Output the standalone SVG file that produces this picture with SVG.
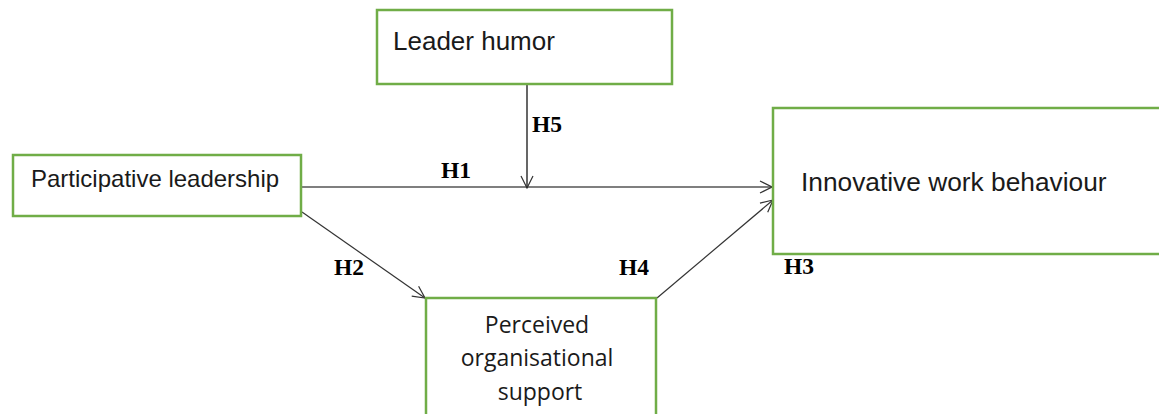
<svg xmlns="http://www.w3.org/2000/svg" width="1159" height="414" viewBox="0 0 1159 414">
<style>
.box{fill:#fff;stroke:#70ad47;stroke-width:2.5}
.lbl{font-family:"Liberation Sans",Arial,sans-serif;fill:#1a1a1a}
.h{font-family:"Liberation Serif","Times New Roman",serif;font-weight:bold;font-size:23.5px;fill:#000}
.c{fill:none;stroke-width:1.2}
</style>
<defs>
<marker id="arr" viewBox="0 0 14 14" refX="13" refY="7" markerWidth="14" markerHeight="14" markerUnits="userSpaceOnUse" orient="auto">
<path d="M1,1 L13,7 L1,13" fill="none" stroke="#333" stroke-width="1.2"/>
</marker>
</defs>
<rect width="1159" height="414" fill="#fff"/>
<g id="connectors">
<line class="c" x1="302" y1="187" x2="772" y2="187" stroke="#000" marker-end="url(#arr)"/>
<line class="c" x1="527" y1="84" x2="527" y2="188" stroke="#000" marker-end="url(#arr)"/>
<line class="c" x1="302" y1="212" x2="425" y2="298" stroke="#333" marker-end="url(#arr)"/>
<line class="c" x1="657" y1="298" x2="773" y2="200" stroke="#333" marker-end="url(#arr)"/>
<text class="h" x="441" y="178">H1</text>
<text class="h" x="334" y="275">H2</text>
<text class="h" x="784" y="274">H3</text>
<text class="h" x="619" y="275">H4</text>
<text class="h" x="532" y="132">H5</text>
</g>
<g id="leader-humor">
<rect class="box" x="377" y="10" width="295" height="74"/>
<text class="lbl" x="393" y="50" font-size="26">Leader humor</text>
</g>
<g id="participative-leadership">
<rect class="box" x="13" y="155" width="288" height="61"/>
<text class="lbl" x="31" y="187" font-size="24">Participative leadership</text>
</g>
<g id="innovative-work-behaviour">
<rect class="box" x="773" y="108" width="400" height="146"/>
<text class="lbl" x="801" y="191" font-size="26.3">Innovative work behaviour</text>
</g>
<g id="perceived-organisational-support">
<rect class="box" x="426" y="298" width="230" height="130"/>
<text font-family="'Open Sans','Noto Sans',sans-serif" font-size="23" fill="#1a1a1a" text-anchor="middle">
<tspan x="540" y="333">Perceived</tspan>
<tspan x="540" y="366">organisational</tspan>
<tspan x="540" y="400">support</tspan>
</text>
</g>
</svg>
